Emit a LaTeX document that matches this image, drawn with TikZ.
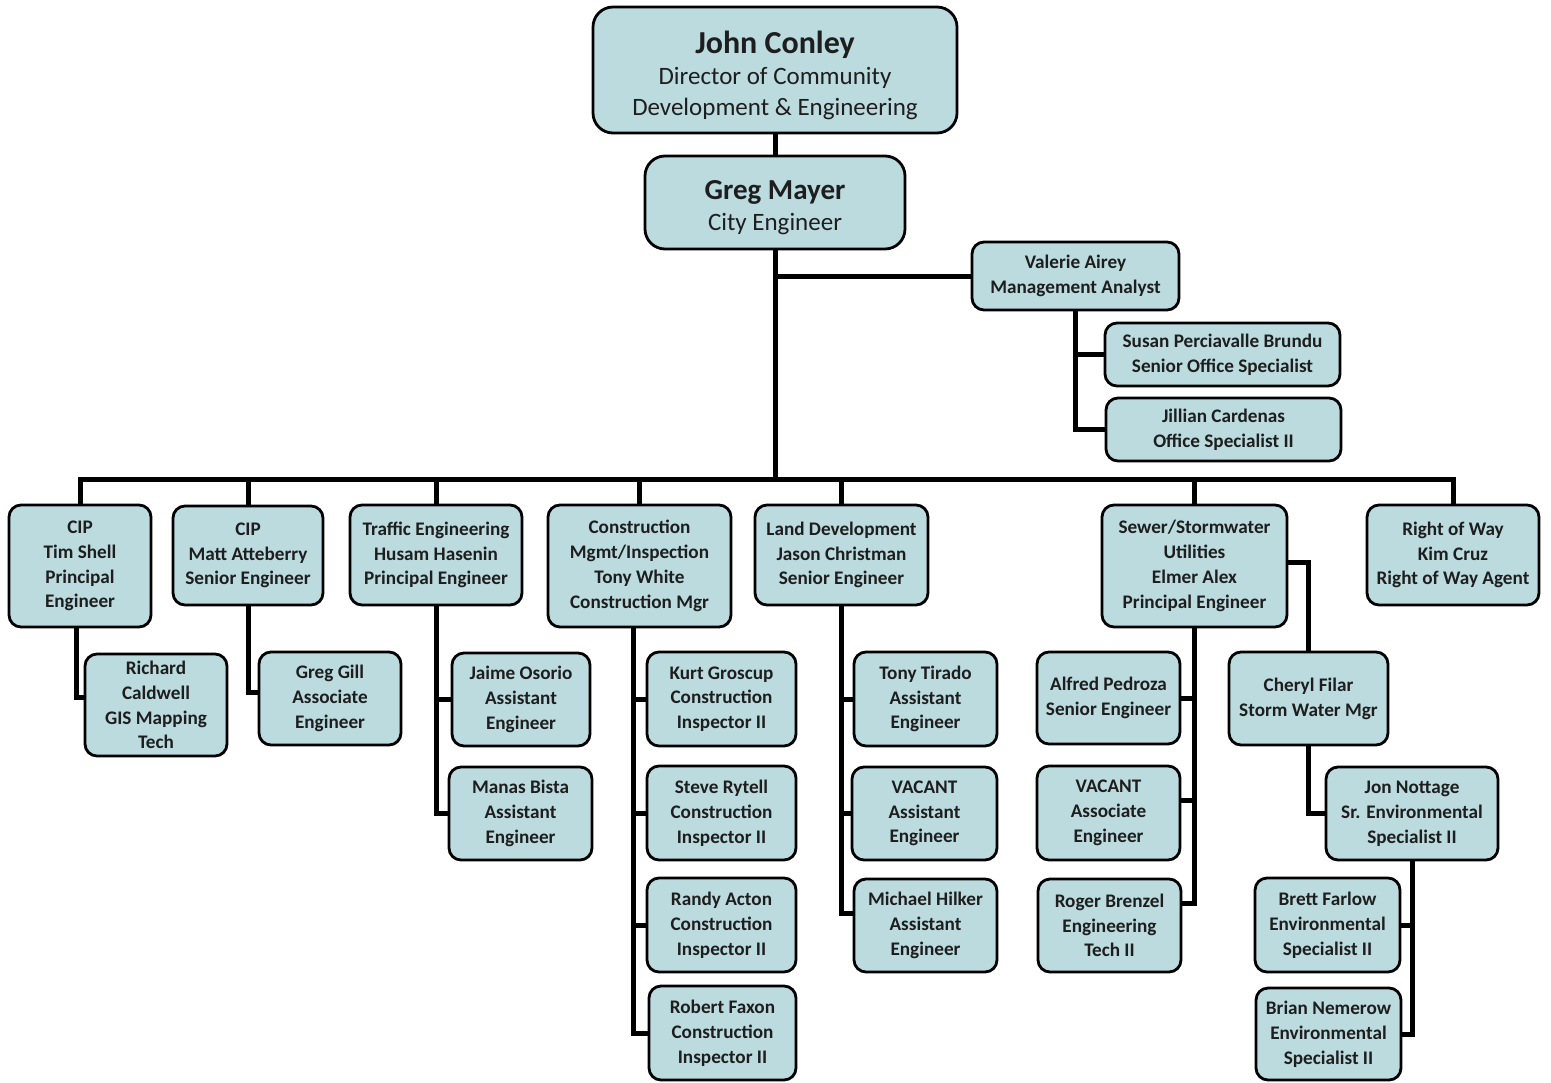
\documentclass[tikz,border=0pt]{standalone}
\usepackage{fontspec}
\setmainfont{Carlito}
\definecolor{boxfill}{HTML}{BBDBDF}
\definecolor{txt}{HTML}{1E1E1E}
\newcommand\obx[6]{\node[bx, minimum width={(#4-#2)*0.5pt}, minimum height={(#5-#3)*0.5pt}] (#1) at ({(#2+#4)/2},{(#3+#5)/2}) {#6};}
\begin{document}
\begin{tikzpicture}[x=0.5pt,y=-0.5pt,
  bx/.style={draw=black, line width=1.4pt, fill=boxfill, rounded corners=6pt, inner sep=0pt, outer sep=0pt,
    align=center, text=txt, font=\bfseries\fontsize{9.6}{12.4}\selectfont},
  big/.style={rounded corners=10pt},
  conn/.style={draw=black, line width=2.5pt, line join=miter}]
\useasboundingbox (0,0) rectangle (1551,1082);
% top
\node[bx, big, minimum width={(957-593)*0.5pt}, minimum height={(133-7)*0.5pt}, font=\fontsize{12.5}{15.5}\selectfont] (jc) at (775,70)
  {\rule{0pt}{17pt}{\bfseries\fontsize{16}{15.5}\selectfont John Conley}\\Director of Community\\Development \& Engineering};
\node[bx, big, minimum width={(904-644)*0.5pt}, minimum height={(249-156)*0.5pt}, font=\fontsize{12.5}{15.5}\selectfont] (gm) at (775,202.5)
  {\rule{0pt}{15pt}{\bfseries\fontsize{14.5}{15.5}\selectfont Greg Mayer}\\City Engineer};
\obx{va}{972}{242}{1179}{310}{Valerie Airey\\Management Analyst}
\obx{sus}{1105}{323}{1340}{386}{Susan Perciavalle Brundu\\Senior Office Specialist}
\obx{jil}{1106}{398}{1341}{461}{Jillian Cardenas\\Office Specialist II}
% second row
\obx{cip1}{9}{505}{151}{627}{CIP\\Tim Shell\\Principal\\Engineer}
\obx{cip2}{173}{506}{323}{605}{CIP\\Matt Atteberry\\Senior Engineer}
\obx{tr}{350}{505}{522}{605}{Traffic Engineering\\Husam Hasenin\\Principal Engineer}
\obx{cm}{548}{505}{731}{627}{Construction\\Mgmt/Inspection\\Tony White\\Construction Mgr}
\obx{ld}{755}{505}{928}{605}{Land Development\\Jason Christman\\Senior Engineer}
\obx{sw}{1102}{505}{1287}{627}{Sewer/Stormwater\\Utilities\\Elmer Alex\\Principal Engineer}
\obx{row}{1367}{505}{1539}{605}{Right of Way\\Kim Cruz\\Right of Way Agent}
% children
\obx{rc}{85}{654}{227}{756}{Richard\\Caldwell\\GIS Mapping\\Tech}
\obx{gg}{259}{652}{401}{745}{Greg Gill\\Associate\\Engineer}
\obx{jo}{452}{653}{590}{746}{Jaime Osorio\\Assistant\\Engineer}
\obx{mb}{449}{767}{592}{860}{Manas Bista\\Assistant\\Engineer}
\obx{kg}{647}{652}{796}{746}{Kurt Groscup\\Construction\\Inspector II}
\obx{sr}{647}{766}{796}{860}{Steve Rytell\\Construction\\Inspector II}
\obx{ra}{647}{878}{796}{972}{Randy Acton\\Construction\\Inspector II}
\obx{rf}{649}{986}{796}{1080}{Robert Faxon\\Construction\\Inspector II}
\obx{tt}{854}{652}{997}{746}{Tony Tirado\\Assistant\\Engineer}
\obx{lv}{852}{767}{997}{860}{VACANT\\Assistant\\Engineer}
\obx{mh}{854}{879}{997}{972}{Michael Hilker\\Assistant\\Engineer}
\obx{ap}{1037}{652}{1180}{744}{Alfred Pedroza\\Senior Engineer}
\obx{sv}{1037}{766}{1180}{860}{VACANT\\Associate\\Engineer}
\obx{rb}{1038}{879}{1181}{972}{Roger Brenzel\\Engineering\\Tech II}
\obx{cf}{1229}{652}{1388}{745}{Cheryl Filar\\Storm Water Mgr}
\obx{jn}{1326}{767}{1498}{860}{Jon Nottage\\Sr. Environmental\\Specialist II}
\obx{bf}{1255}{878}{1400}{972}{Brett Farlow\\Environmental\\Specialist II}
\obx{bn}{1256}{988}{1401}{1080}{Brian Nemerow\\Environmental\\Specialist II}
% connectors
\coordinate (busC) at (775,479);
\coordinate (cipL) at (76,627);
\coordinate (cmL) at (633,627);
\coordinate (swc) at (1287,562);
\coordinate (rcW) at ([yshift=4pt]rc.west);
\coordinate (ggW) at ([yshift=3pt]gg.west);
\coordinate (mhW) at ([yshift=6pt]mh.west);
\coordinate (svE) at ([yshift=6.5pt]sv.east);
\coordinate (rbE) at ([yshift=11pt]rb.east);
\draw[conn] (jc.south) -- (gm.north);
\draw[conn] (gm.south) -- (busC);
\draw[conn] (gm.south |- va.west) -- (va.west);
\draw[conn] (va.south) |- (jil.west);
\draw[conn] (va.south |- sus.west) -- (sus.west);
\draw[conn] (cip1.north) |- (row.north |- busC) -- (row.north);
\foreach \n in {cip2,tr,cm,ld,sw} \draw[conn] (\n.north) -- (\n.north |- busC);
\draw[conn] (cipL) |- (rcW);
\draw[conn] (cip2.south) |- (ggW);
\draw[conn] (tr.south) |- (mb.west);
\draw[conn] (tr.south |- jo.west) -- (jo.west);
\draw[conn] (cmL) |- (rf.west);
\foreach \n in {kg,sr,ra} \draw[conn] (cmL |- \n.west) -- (\n.west);
\draw[conn] (ld.south) |- (mhW);
\foreach \n in {tt,lv} \draw[conn] (ld.south |- \n.west) -- (\n.west);
\draw[conn] (sw.south) |- (rbE);
\draw[conn] (sw.south |- ap.east) -- (ap.east);
\draw[conn] (sw.south |- svE) -- (svE);
\draw[conn] (swc) -| (cf.north);
\draw[conn] (cf.south) |- (jn.west);
\draw[conn] (jn.south) |- (bn.east);
\draw[conn] (jn.south |- bf.east) -- (bf.east);
\end{tikzpicture}
\end{document}
